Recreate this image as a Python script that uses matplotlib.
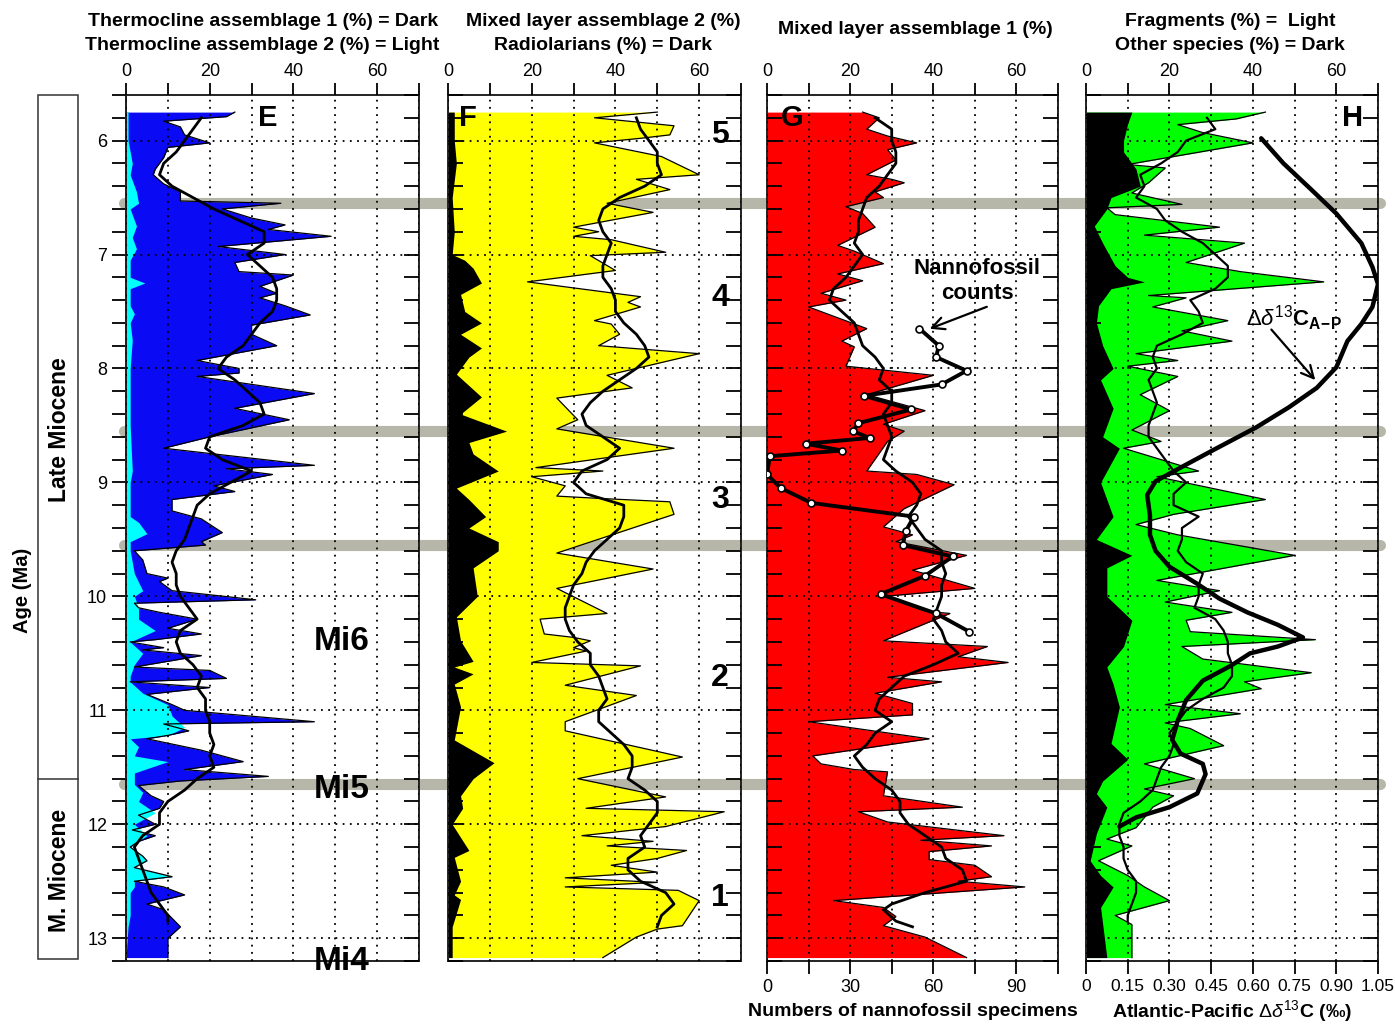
import matplotlib
matplotlib.use('Agg')
import matplotlib.pyplot as plt
import matplotlib.transforms as mtransforms
from matplotlib.lines import Line2D
from matplotlib.patches import Rectangle
from matplotlib.ticker import MultipleLocator
import numpy as np

plt.rcParams['font.family'] = ['Liberation Sans', 'DejaVu Sans']
plt.rcParams['mathtext.fontset'] = 'custom'
plt.rcParams['mathtext.rm'] = 'Liberation Sans'
plt.rcParams['mathtext.it'] = 'Liberation Sans:italic'
plt.rcParams['mathtext.bf'] = 'Liberation Sans:bold'

# ---------------- data (age Ma, value) ----------------
# panel E: thermocline assemblages (%)
e_total = [(5.75, 26), (5.79, 24), (5.83, 9), (5.88, 13), (5.95, 14), (6.02, 20), (6.06, 10),
           (6.15, 9), (6.25, 7), (6.30, 6.5), (6.38, 9), (6.45, 13), (6.53, 13), (6.55, 37),
           (6.60, 23), (6.68, 30), (6.74, 38), (6.78, 34), (6.84, 49), (6.93, 22), (7.00, 38),
           (7.07, 26), (7.15, 27), (7.18, 40), (7.28, 32), (7.34, 36), (7.38, 32), (7.45, 38),
           (7.53, 44), (7.62, 30), (7.70, 30), (7.80, 36), (7.93, 17), (8.00, 27), (8.04, 27),
           (8.07, 17), (8.22, 45), (8.35, 26), (8.45, 39), (8.60, 20), (8.70, 9), (8.85, 45),
           (8.88, 24), (8.93, 35), (9.03, 21), (9.08, 26), (9.15, 11), (9.25, 11), (9.32, 18),
           (9.44, 23), (9.52, 18), (9.55, 19), (9.60, 2), (9.68, 4), (9.80, 5), (9.84, 10),
           (9.87, 8), (9.95, 11), (10.03, 31), (10.06, 2), (10.10, 3), (10.14, 8), (10.20, 17),
           (10.28, 10), (10.33, 18), (10.38, 7), (10.40, 1), (10.45, 9), (10.47, 4), (10.52, 18),
           (10.57, 10), (10.62, 2), (10.65, 20), (10.72, 24), (10.75, 1), (10.80, 20), (10.86, 5),
           (10.95, 11), (11.00, 14), (11.10, 45), (11.12, 9), (11.18, 15), (11.22, 10), (11.25, 5),
           (11.35, 18), (11.45, 28), (11.52, 14), (11.58, 34), (11.62, 13), (11.66, 3), (11.75, 6),
           (11.80, 9), (11.86, 8), (11.92, 3), (12.00, 7), (12.05, 1.5), (12.10, 7), (12.15, 3),
           (12.20, 1), (12.28, 4), (12.32, 5), (12.38, 2), (12.46, 11), (12.50, 2), (12.55, 9),
           (12.62, 14), (12.70, 5), (12.75, 9), (12.90, 13), (13.00, 10), (13.17, 10)]
e_light = [(5.75, 0.5), (6.00, 0.5), (6.10, 1), (6.20, 1.5), (6.30, 1), (6.45, 2.5), (6.55, 3),
           (6.60, 1), (6.75, 2.5), (6.85, 1.5), (6.95, 2.5), (7.05, 1), (7.20, 1), (7.25, 4.5),
           (7.30, 1), (7.45, 1), (7.52, 2), (7.60, 1), (7.75, 1.5), (8.00, 1), (8.50, 1),
           (8.90, 1.5), (9.00, 1), (9.30, 1), (9.35, 3), (9.45, 5), (9.52, 1), (9.60, 1),
           (9.80, 2), (9.95, 4), (10.00, 2), (10.10, 3), (10.20, 3), (10.30, 7), (10.40, 1),
           (10.50, 4), (10.60, 2), (10.70, 1), (10.75, 1), (10.85, 4), (10.95, 10), (11.05, 11),
           (11.15, 14), (11.22, 10), (11.25, 1), (11.32, 3), (11.40, 2), (11.45, 10), (11.55, 2),
           (11.65, 2), (11.72, 4), (11.80, 3), (11.90, 7), (12.00, 2), (12.10, 5), (12.20, 1),
           (12.28, 4), (12.32, 5), (12.38, 2), (12.46, 11), (12.50, 2), (12.55, 2), (12.60, 1),
           (12.80, 1), (12.90, 0.5), (13.17, 0)]
e_smooth = [(5.8, 18), (5.9, 16), (6.0, 14), (6.1, 12), (6.2, 9), (6.3, 8), (6.4, 11), (6.5, 16),
            (6.6, 21), (6.7, 27), (6.8, 33), (6.9, 33), (7.0, 29), (7.1, 32), (7.2, 35), (7.3, 36),
            (7.4, 36), (7.5, 35), (7.6, 32), (7.7, 30), (7.8, 28), (7.9, 24), (8.0, 22), (8.1, 26),
            (8.2, 29), (8.3, 32), (8.4, 33), (8.5, 28), (8.6, 20), (8.7, 19), (8.8, 23), (8.9, 30),
            (9.0, 25), (9.1, 20), (9.2, 17), (9.3, 16), (9.4, 15), (9.5, 14), (9.6, 12), (9.7, 11),
            (9.8, 12), (9.9, 12), (10.0, 13), (10.1, 15), (10.2, 17), (10.3, 13), (10.4, 12),
            (10.5, 13), (10.6, 16), (10.7, 18), (10.8, 17), (10.9, 19), (11.0, 19), (11.1, 20),
            (11.2, 20), (11.3, 21), (11.4, 20), (11.5, 21), (11.6, 17), (11.7, 14), (11.8, 10),
            (11.9, 8), (12.0, 8), (12.1, 4), (12.2, 2), (12.3, 3), (12.4, 4), (12.5, 5), (12.6, 6),
            (12.7, 8), (12.8, 10), (12.85, 10)]

# panel F: mixed layer assemblage 2 (%) and radiolarians (%)
f_raw = [(5.75, 50), (5.80, 35), (5.87, 54), (5.95, 53), (5.98, 46), (6.02, 35), (6.14, 51),
         (6.30, 60), (6.34, 45), (6.43, 53), (6.55, 38), (6.63, 49), (6.76, 30), (6.80, 36),
         (6.84, 30), (6.87, 39), (6.98, 52), (7.01, 34), (7.14, 40), (7.24, 19), (7.37, 46),
         (7.42, 43), (7.46, 46), (7.58, 35), (7.61, 39), (7.70, 41), (7.80, 36), (7.87, 60),
         (8.06, 38), (8.17, 44), (8.26, 26), (8.45, 31), (8.53, 26), (8.70, 54), (8.87, 21),
         (8.90, 37), (8.95, 20), (9.03, 28), (9.12, 26), (9.14, 36), (9.17, 53), (9.28, 54),
         (9.62, 26), (9.76, 49), (9.93, 26), (10.15, 38), (10.20, 22), (10.33, 23), (10.36, 30),
         (10.39, 34), (10.45, 30), (10.48, 33), (10.58, 20), (10.61, 46), (10.78, 28), (10.87, 45),
         (11.10, 28), (11.18, 28), (11.41, 56), (11.60, 31), (11.76, 52), (11.86, 33), (11.89, 66),
         (12.02, 52), (12.10, 32), (12.15, 49), (12.19, 38), (12.23, 57), (12.30, 50), (12.36, 39),
         (12.42, 50), (12.47, 28), (12.51, 50), (12.55, 28), (12.58, 55), (12.67, 60), (12.89, 56),
         (12.92, 50), (12.99, 45), (13.17, 37)]
f_radio = [(5.75, 1.5), (6.0, 1.5), (6.2, 2), (6.5, 1), (6.8, 1.5), (7.0, 1), (7.05, 4), (7.12, 6),
           (7.25, 8), (7.35, 3), (7.5, 4), (7.6, 8), (7.7, 3), (7.82, 8), (7.9, 5), (8.05, 2),
           (8.15, 5), (8.25, 8), (8.4, 3), (8.55, 14), (8.65, 5), (8.75, 6), (8.9, 12), (9.05, 2),
           (9.15, 5), (9.3, 9), (9.4, 5), (9.52, 12), (9.6, 12), (9.75, 6), (10.0, 7), (10.18, 2),
           (10.39, 3), (10.57, 6), (10.62, 1.5), (10.68, 6), (10.77, 1.5), (10.97, 3), (11.26, 1.5),
           (11.46, 11), (11.6, 6), (11.75, 3), (11.86, 3.5), (12.0, 1), (12.23, 5), (12.29, 1.5),
           (12.5, 3), (12.62, 1.5), (12.66, 3), (12.9, 1), (13.17, 1)]
f_smooth = [(5.8, 45), (5.9, 46), (6.0, 48), (6.1, 50), (6.2, 50), (6.3, 51), (6.4, 47), (6.5, 41),
            (6.6, 37), (6.7, 36), (6.8, 37), (6.9, 39), (7.0, 38), (7.1, 37), (7.2, 37), (7.3, 39),
            (7.4, 40), (7.5, 40), (7.6, 42), (7.7, 45), (7.8, 47), (7.9, 48), (8.0, 45), (8.1, 41),
            (8.2, 37), (8.3, 34), (8.4, 32), (8.5, 33), (8.6, 37), (8.7, 41), (8.8, 38), (8.9, 32),
            (9.0, 30), (9.1, 33), (9.2, 42), (9.3, 42), (9.4, 41), (9.5, 38), (9.6, 35), (9.7, 33),
            (9.8, 32), (9.9, 30), (10.0, 29), (10.1, 28), (10.2, 28), (10.3, 29), (10.4, 31),
            (10.5, 34), (10.6, 34), (10.7, 36), (10.8, 37), (10.9, 38), (11.0, 36), (11.1, 36),
            (11.2, 39), (11.3, 42), (11.4, 44), (11.5, 44), (11.6, 43), (11.7, 47), (11.8, 50),
            (11.9, 50), (12.0, 48), (12.1, 46), (12.2, 47), (12.3, 43), (12.4, 43), (12.5, 46),
            (12.6, 52), (12.7, 54), (12.8, 51), (12.9, 50)]

# panel G: mixed layer assemblage 1 (%) and nannofossil counts
g_raw = [(5.75, 23), (5.80, 27), (5.90, 24), (5.96, 29), (6.02, 36), (6.08, 29), (6.17, 31),
         (6.30, 24), (6.34, 30), (6.37, 33), (6.45, 26), (6.50, 28), (6.58, 19), (6.64, 23),
         (6.76, 26), (6.92, 17), (6.97, 21), (7.08, 28), (7.17, 17), (7.23, 23), (7.34, 13),
         (7.40, 19), (7.46, 10), (7.65, 24), (7.76, 18), (7.81, 21), (7.98, 19), (8.06, 40),
         (8.23, 24), (8.37, 38), (8.49, 28), (8.55, 33), (8.64, 29), (8.90, 24), (8.93, 36),
         (9.02, 45), (9.23, 33), (9.39, 28), (9.46, 35), (9.52, 31), (9.64, 48), (9.77, 35),
         (9.93, 50), (10.00, 28), (10.13, 38), (10.15, 44), (10.39, 28), (10.44, 53), (10.53, 46),
         (10.58, 58), (10.71, 29), (10.75, 42), (10.85, 26), (10.94, 35), (11.04, 35), (11.10, 10),
         (11.25, 39), (11.40, 11), (11.47, 13), (11.52, 21), (11.54, 29), (11.75, 28), (11.85, 47),
         (11.89, 22), (11.98, 29), (12.10, 57), (12.14, 37), (12.19, 54), (12.24, 39), (12.31, 39),
         (12.36, 50), (12.46, 54), (12.50, 46), (12.55, 62), (12.67, 16), (12.73, 28), (12.81, 31),
         (12.89, 28), (12.99, 38), (13.17, 48)]
g_smooth = [(5.8, 26), (5.9, 30), (6.0, 30), (6.1, 31), (6.2, 31), (6.3, 29), (6.4, 27), (6.5, 24),
            (6.6, 23), (6.7, 22), (6.8, 22), (6.9, 21), (7.0, 23), (7.1, 21), (7.2, 19), (7.3, 16),
            (7.4, 15), (7.5, 18), (7.6, 21), (7.7, 22), (7.8, 23), (7.9, 26), (8.0, 28), (8.1, 27),
            (8.2, 30), (8.3, 30), (8.4, 28), (8.5, 29), (8.6, 30), (8.7, 29), (8.8, 28), (8.9, 31),
            (9.0, 35), (9.1, 37), (9.2, 36), (9.3, 34), (9.4, 36), (9.5, 38), (9.6, 42), (9.7, 42),
            (9.8, 43), (9.9, 42), (10.0, 42), (10.1, 41), (10.2, 40), (10.3, 42), (10.4, 43),
            (10.5, 46), (10.6, 40), (10.7, 33), (10.8, 30), (10.9, 27), (11.0, 26), (11.1, 30),
            (11.2, 26), (11.3, 24), (11.4, 21), (11.5, 23), (11.6, 26), (11.7, 30), (11.8, 32),
            (11.9, 32), (12.0, 34), (12.1, 38), (12.2, 42), (12.3, 43), (12.4, 47), (12.5, 48),
            (12.6, 38), (12.7, 30), (12.75, 28), (12.85, 31), (12.9, 35)]
nanno = [(7.65, 55), (7.80, 62), (7.90, 61), (8.02, 72), (8.14, 63), (8.24, 35), (8.36, 52),
         (8.48, 33), (8.55, 31), (8.61, 37), (8.66, 14), (8.72, 27), (8.77, 1), (8.93, 0),
         (9.05, 5), (9.18, 16), (9.30, 53), (9.43, 50), (9.55, 49), (9.65, 67), (9.82, 57),
         (9.98, 41), (10.15, 61), (10.31, 73)]

# panel H: fragments (%), other species (%), Atlantic-Pacific d13C
h_frag = [(5.75, 43), (5.81, 36), (5.86, 22), (5.93, 28), (6.02, 40), (6.21, 10), (6.24, 19),
          (6.37, 15), (6.46, 11), (6.56, 23), (6.59, 5), (6.65, 7), (6.76, 32), (6.83, 14),
          (6.90, 38), (7.07, 24), (7.15, 37), (7.24, 57), (7.36, 15), (7.38, 24), (7.46, 16),
          (7.58, 34), (7.67, 23), (7.76, 35), (7.87, 12), (7.93, 22), (7.98, 10), (8.07, 22),
          (8.23, 13), (8.37, 20), (8.54, 11), (8.64, 18), (8.70, 9), (8.90, 27), (8.95, 17),
          (9.15, 43), (9.28, 21), (9.37, 12), (9.46, 22), (9.64, 50), (9.86, 17), (9.95, 32),
          (10.05, 19), (10.14, 35), (10.21, 24), (10.31, 25), (10.38, 55), (10.44, 23), (10.55, 28),
          (10.67, 54), (10.75, 38), (10.81, 42), (10.95, 19), (11.03, 37), (11.11, 19), (11.16, 25),
          (11.31, 33), (11.47, 14), (11.60, 26), (11.69, 14), (11.75, 21), (11.85, 16), (12.03, 12),
          (12.13, 5), (12.19, 11), (12.32, 3), (12.45, 10), (12.55, 14), (12.67, 20), (12.80, 7),
          (12.88, 11), (13.17, 11)]
h_other = [(5.75, 11), (5.85, 10), (6.0, 9), (6.1, 9), (6.25, 12), (6.4, 13), (6.5, 6), (6.6, 5),
           (6.75, 2), (6.9, 4), (7.1, 7), (7.2, 10), (7.24, 14), (7.3, 6), (7.45, 3), (7.6, 2.5),
           (7.8, 4), (8.0, 6.5), (8.1, 3.5), (8.35, 6.5), (8.6, 4), (8.7, 8), (9.0, 3.5), (9.3, 6.5),
           (9.5, 2.5), (9.64, 11), (9.75, 5), (10.0, 5), (10.21, 11), (10.44, 9), (10.62, 5),
           (10.77, 6.5), (10.97, 8), (11.29, 6), (11.43, 10), (11.62, 4), (11.73, 2.5), (11.85, 5),
           (12.08, 2.5), (12.32, 1), (12.45, 3.5), (12.55, 6.5), (12.73, 3.5), (13.17, 5)]
h_smooth = [(5.8, 29), (5.9, 31), (6.0, 24), (6.1, 22), (6.2, 18), (6.3, 13), (6.4, 14), (6.5, 12),
            (6.6, 17), (6.7, 19), (6.8, 23), (6.9, 28), (7.0, 31), (7.1, 34), (7.2, 34), (7.3, 31),
            (7.4, 25), (7.5, 27), (7.6, 28), (7.7, 23), (7.8, 17), (7.9, 16), (8.0, 17), (8.1, 15),
            (8.2, 16), (8.3, 17), (8.4, 16), (8.5, 15), (8.6, 15), (8.7, 17), (8.8, 19), (8.9, 21),
            (9.0, 24), (9.1, 21), (9.2, 21), (9.3, 27), (9.4, 23), (9.5, 23), (9.6, 22), (9.7, 24),
            (9.8, 28), (9.9, 27), (10.0, 27), (10.1, 26), (10.2, 31), (10.3, 33), (10.4, 34),
            (10.5, 34), (10.6, 35), (10.7, 35), (10.8, 33), (10.9, 28), (11.0, 24), (11.1, 22),
            (11.2, 20), (11.3, 21), (11.4, 20), (11.5, 18), (11.6, 17), (11.7, 16), (11.8, 13),
            (11.9, 9), (12.0, 8), (12.1, 8), (12.2, 9), (12.3, 9), (12.4, 10), (12.5, 12),
            (12.6, 12), (12.7, 11), (12.8, 10), (12.85, 10)]
d13c = [(5.98, 0.63), (6.20, 0.71), (6.43, 0.81), (6.64, 0.90), (6.90, 0.99), (7.11, 1.03),
        (7.26, 1.05), (7.46, 1.03), (7.61, 0.99), (7.76, 0.94), (7.99, 0.90), (8.17, 0.83),
        (8.34, 0.73), (8.52, 0.61), (8.70, 0.47), (8.87, 0.34), (8.99, 0.25), (9.11, 0.22),
        (9.29, 0.23), (9.46, 0.23), (9.60, 0.25), (9.74, 0.30), (9.89, 0.40), (10.02, 0.48),
        (10.14, 0.58), (10.25, 0.69), (10.36, 0.78), (10.44, 0.69), (10.50, 0.59), (10.61, 0.52),
        (10.74, 0.42), (10.91, 0.36), (11.09, 0.33), (11.26, 0.31), (11.38, 0.34), (11.47, 0.42),
        (11.56, 0.43), (11.73, 0.40), (11.85, 0.30), (11.94, 0.18), (12.02, 0.12)]

# grey event bars (Ma)
events = [6.55, 8.55, 9.55, 11.65]

top_ticks = [0, 10, 20, 30, 40, 50, 60, 70]
top_labels = ['0', '', '20', '', '40', '', '60', '']
nanno_ticks = [0, 15, 30, 45, 60, 75, 90, 105]
nanno_labels = ['0', '', '30', '', '60', '', '90', '']
d13c_ticks = [0, 0.15, 0.30, 0.45, 0.60, 0.75, 0.90, 1.05]
d13c_labels = ['0', '0.15', '0.30', '0.45', '0.60', '0.75', '0.90', '1.05']


def xy(series):
    a = np.array(series, dtype=float)
    return a[:, 0], a[:, 1]


W, H = 1395, 1028
fig = plt.figure(figsize=(W / 100, H / 100), dpi=100)


def box(left, width):
    return [left / W, 1 - 961 / H, width / W, 866 / H]


def ftext(x, y, s, **kw):
    kw.setdefault('ha', 'center')
    kw.setdefault('va', 'center')
    fig.text(x / W, 1 - y / H, s, **kw)


def top_axis(ax):
    ax.set_xticks(top_ticks)
    ax.set_xticklabels(top_labels)
    ax.xaxis.set_ticks_position('top')
    ax.tick_params(axis='x', direction='out', length=9, width=1.3, labelsize=13, pad=2,
                   top=True, labeltop=True, bottom=False, labelbottom=False)


def setup(ax, left_ticks=True):
    ax.set_facecolor('none')
    ax.set_xlim(0, 70)
    ax.set_ylim(13.2, 5.6)
    top_axis(ax)
    ax.yaxis.set_major_locator(MultipleLocator(1))
    ax.yaxis.set_minor_locator(MultipleLocator(0.2))
    ax.tick_params(axis='y', which='both', direction='in', length=11, width=1.3,
                   left=left_ticks, right=True, labelleft=False)
    for s in ax.spines.values():
        s.set_linewidth(1.4)
        s.set_color('#222222')
    ax.set_axisbelow(False)
    ax.grid(True, which='major', color='k', linestyle=(0, (1, 3)), linewidth=1.3)


def bottom_twin(ax, xmax, ticks, labels, size):
    tw = ax.twiny()
    top_axis(ax)  # twiny moves the host ticks to the bottom; put them back on top
    tw.set_xlim(0, xmax)
    tw.set_ylim(13.2, 5.6)
    tw.set_xticks(ticks)
    tw.set_xticklabels(labels)
    tw.xaxis.set_ticks_position('bottom')
    tw.xaxis.set_label_position('bottom')
    tw.tick_params(axis='x', direction='out', length=9, width=1.3, labelsize=size, pad=4,
                   top=False, labeltop=False, bottom=True, labelbottom=True)
    for s in tw.spines.values():
        s.set_visible(False)
    return tw


axE = fig.add_axes(box(126, 293))
axF = fig.add_axes(box(448, 293))
axG = fig.add_axes(box(767, 291))
axH = fig.add_axes(box(1086, 292))
for ax in (axF, axG, axH):
    setup(ax)
setup(axE, left_ticks=False)

sec = axE.secondary_yaxis('left')
sec.yaxis.set_major_locator(MultipleLocator(1))
sec.yaxis.set_minor_locator(MultipleLocator(0.2))
sec.tick_params(which='both', direction='out', length=10, width=1.3, labelsize=13)
sec.spines['left'].set_linewidth(1.4)

# grey event bars running across all panels, behind the fills
blend = mtransforms.blended_transform_factory(fig.transFigure, axE.transData)
for t in events:
    fig.add_artist(Line2D([124 / W, 1380 / W], [t, t], transform=blend, color='#b7b7a9',
                          lw=8, solid_capstyle='round', zorder=-1))

# E
a, v = xy(e_total)
axE.fill_betweenx(a, 0, v, color='#0a0af5', lw=0, zorder=1)
a2, v2 = xy(e_light)
axE.fill_betweenx(a2, 0, v2, color='#00ffff', lw=0, zorder=1.1)
axE.plot(v, a, color='k', lw=0.9, zorder=3)
a, v = xy(e_smooth)
axE.plot(v, a, color='k', lw=2.0, zorder=3)

# F
a, v = xy(f_raw)
axF.fill_betweenx(a, 0, v, color='#ffff00', lw=0, zorder=1)
axF.plot(v, a, color='k', lw=0.9, zorder=3)
a2, v2 = xy(f_radio)
axF.fill_betweenx(a2, 0, v2, color='k', lw=0, zorder=1.1)
a, v = xy(f_smooth)
axF.plot(v, a, color='k', lw=2.0, zorder=3)

# G
a, v = xy(g_raw)
axG.fill_betweenx(a, 0, v, color='#ff0000', lw=0, zorder=1)
axG.plot(v, a, color='k', lw=0.9, zorder=3)
a, v = xy(g_smooth)
axG.plot(v, a, color='k', lw=2.0, zorder=3)

axG2 = bottom_twin(axG, 105, nanno_ticks, nanno_labels, 13)
a, v = xy(nanno)
axG2.plot(v, a, color='k', lw=2.8, marker='o', ms=5, mfc='white', mec='k', mew=1.2, zorder=4)
axG2.set_xlabel('Numbers of nannofossil specimens', fontsize=14, fontweight='bold', labelpad=5)

# H
a, v = xy(h_frag)
axH.fill_betweenx(a, 0, v, color='#00ff00', lw=0, zorder=1)
axH.plot(v, a, color='k', lw=0.9, zorder=3)
a2, v2 = xy(h_other)
axH.fill_betweenx(a2, 0, v2, color='k', lw=0, zorder=1.1)
a, v = xy(h_smooth)
axH.plot(v, a, color='k', lw=1.6, zorder=3)

axH2 = bottom_twin(axH, 1.05, d13c_ticks, d13c_labels, 12.5)
a, v = xy(d13c)
axH2.plot(v, a, color='k', lw=3.2, solid_capstyle='round', zorder=4)
axH2.set_xlabel(r'Atlantic-Pacific $\Delta\delta^{13}$C (‰)', fontsize=14,
                fontweight='bold', labelpad=3)

# annotations
axG.annotate('', xy=(38.5, 7.66), xytext=(53.5, 7.45),
             arrowprops=dict(arrowstyle='->', lw=1.6, color='k', mutation_scale=22))
ftext(977, 281, 'Nannofossil\ncounts', fontsize=16, fontweight='bold', linespacing=1.2)
axH.annotate('', xy=(55.4, 8.12), xytext=(44.0, 7.64),
             arrowprops=dict(arrowstyle='->', lw=1.6, color='k', mutation_scale=22))
ftext(1246, 318, r'$\Delta\delta^{13}$C$_{\mathbf{A\!-\!P}}$', ha='left', fontsize=16,
      fontweight='bold')

# titles
tkw = dict(fontsize=14, fontweight='bold')
ftext(263, 22, 'Thermocline assemblage 1 (%) = Dark', **tkw)
ftext(262, 46, 'Thermocline assemblage 2 (%) = Light', **tkw)
ftext(603, 22, 'Mixed layer assemblage 2 (%)', **tkw)
ftext(603, 46, 'Radiolarians (%) = Dark', **tkw)
ftext(915, 30, 'Mixed layer assemblage 1 (%)', **tkw)
ftext(1230, 22, 'Fragments (%) =  Light', **tkw)
ftext(1230, 46, 'Other species (%) = Dark', **tkw)

# panel letters and labels
lkw = dict(fontsize=21, fontweight='bold')
ftext(268, 118, 'E', **lkw)
ftext(468, 118, 'F', **lkw)
ftext(792, 118, 'G', **lkw)
ftext(1353, 118, 'H', **lkw)
for s, y in [('5', 135), ('4', 298), ('3', 500), ('2', 678), ('1', 898)]:
    ftext(720, y, s, fontsize=23, fontweight='bold')
for s, y in [('Mi6', 642), ('Mi5', 790), ('Mi4', 962)]:
    ftext(342, y, s, fontsize=24, fontweight='bold')

# epoch column
fig.add_artist(Rectangle((38 / W, 1 - 959 / H), 40 / W, 864 / H, transform=fig.transFigure,
                         fill=False, lw=1.1, edgecolor='#333333'))
fig.add_artist(Line2D([38 / W, 78 / W], [1 - 779 / H, 1 - 779 / H], transform=fig.transFigure,
                      lw=1.1, color='#333333'))
ftext(60, 430, 'Late Miocene', rotation=90, fontsize=16.5, fontweight='bold')
ftext(60, 870, 'M. Miocene', rotation=90, fontsize=16.5, fontweight='bold')
ftext(22, 590, 'Age (Ma)', rotation=90, fontsize=14.5, fontweight='bold')

fig.savefig('out.png', dpi=100)
